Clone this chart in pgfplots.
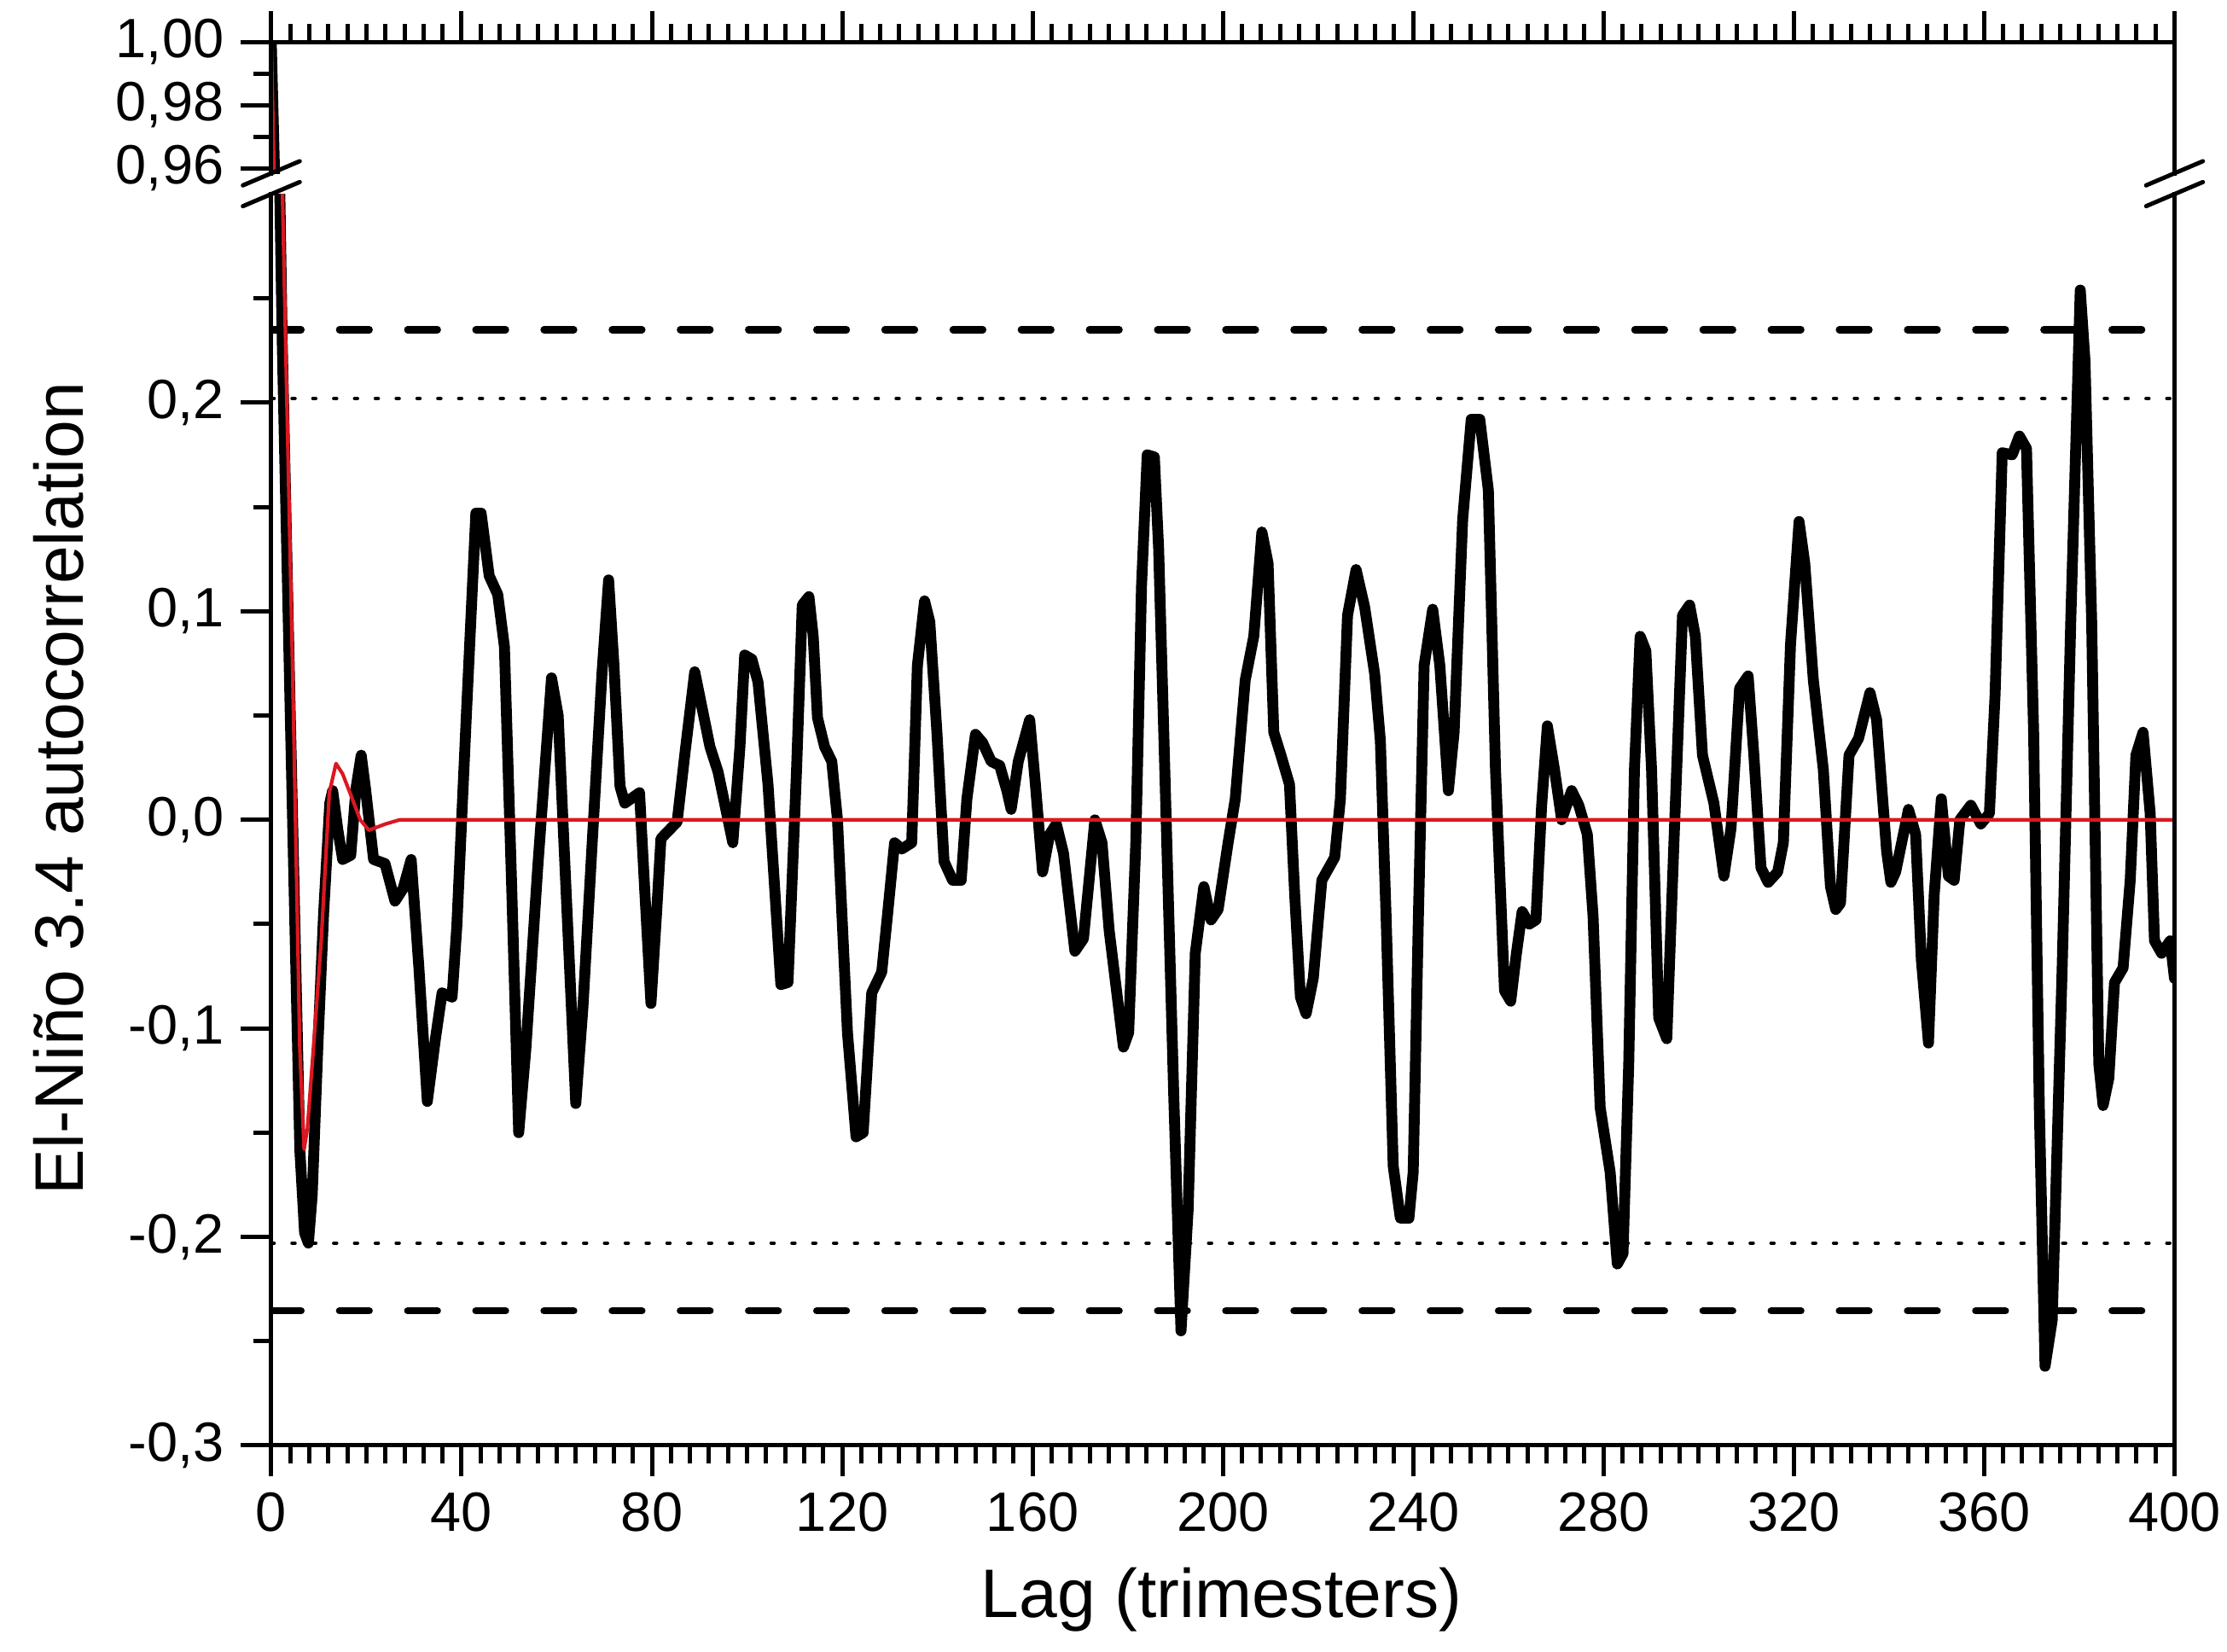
\documentclass[border=0pt]{standalone}
\usepackage{fontspec}
\setmainfont{Liberation Sans}
\usepackage{pgfplots}
\pgfplotsset{compat=1.18}
\usepackage{pgfplotstable}

\pgfplotstableread{
lag v
0 1.0
1 0.94
1.8 0.30
2.3 0.23
4 0.05
6 -0.158
7 -0.198
7.8 -0.203
8.6 -0.18
9.8 -0.108
11 -0.045
12.3 0.008
12.9 0.014
14 -0.005
15 -0.019
16.7 -0.017
17.8 0.015
18.9 0.031
19.8 0.015
21.5 -0.019
23.9 -0.021
26 -0.039
27.7 -0.033
29.4 -0.019
31 -0.07
32.8 -0.135
34.5 -0.105
35.9 -0.083
38 -0.085
39 -0.051
41 0.05
43 0.147
44.1 0.147
45.8 0.117
47.6 0.108
49 0.083
50.5 -0.03
52 -0.150
53.5 -0.11
56 -0.023
58.9 0.068
60.3 0.050
62 -0.036
64 -0.136
65.5 -0.09
67.5 -0.009
69.5 0.07
70.9 0.115
72 0.075
73.3 0.016
74.3 0.008
77.4 0.013
78.5 -0.034
79.8 -0.088
81 -0.044
81.9 -0.009
85.3 -0.001
87 0.033
89 0.071
92.2 0.035
93.9 0.023
97 -0.011
98.5 0.035
99.5 0.079
101 0.077
102.3 0.066
104.4 0.017
107.1 -0.079
108.6 -0.078
110.4 0.024
111.6 0.103
113.0 0.107
113.9 0.088
114.8 0.049
116.3 0.035
117.8 0.028
119.0 0.0
121.1 -0.102
122.9 -0.152
124.4 -0.150
126.2 -0.083
128.3 -0.073
129.5 -0.046
131.0 -0.011
132.5 -0.014
134.6 -0.011
135.8 0.074
137.3 0.105
138.4 0.095
139.9 0.042
141.4 -0.020
143.2 -0.029
145.0 -0.029
146.2 0.010
148.0 0.041
149.5 0.037
151.3 0.028
153.1 0.026
154.6 0.014
155.5 0.005
157.0 0.028
159.4 0.048
160.6 0.017
162.1 -0.025
163.6 -0.007
165.0 -0.002
166.5 -0.016
168.9 -0.063
170.7 -0.057
173.1 0.0
174.6 -0.011
176.1 -0.053
179.1 -0.109
180.2 -0.102
181.7 -0.011
182.9 0.112
184.1 0.175
185.6 0.174
186.5 0.130
188.0 0.007
189.7 -0.134
191.2 -0.245
192.7 -0.187
194.2 -0.064
196.0 -0.032
197.5 -0.048
199.0 -0.043
201.1 -0.011
202.6 0.010
204.7 0.067
206.5 0.088
208.2 0.138
209.5 0.123
210.7 0.042
212.2 0.031
214.0 0.017
215.1 -0.036
216.3 -0.085
217.5 -0.093
219.0 -0.076
220.8 -0.029
223.5 -0.018
224.7 0.010
226.2 0.098
228.0 0.120
229.8 0.102
231.9 0.070
233.1 0.038
234.3 -0.046
235.8 -0.166
237.3 -0.191
239.1 -0.191
240.0 -0.169
241.1 -0.046
242.3 0.074
244.1 0.101
245.6 0.074
247.4 0.014
248.6 0.042
250.4 0.144
252.2 0.192
254.0 0.192
255.8 0.158
257.3 0.024
259.2 -0.082
260.5 -0.087
261.7 -0.064
262.9 -0.044
264.4 -0.050
265.8 -0.048
267.0 0.007
268.2 0.045
269.7 0.024
271.2 0.0
273.3 0.014
274.8 0.007
276.6 -0.007
277.8 -0.046
279.3 -0.138
281.4 -0.169
282.9 -0.213
284.1 -0.208
285.3 -0.117
286.5 0.024
287.7 0.088
288.9 0.081
290.1 0.024
291.6 -0.095
293.3 -0.105
294.8 -0.011
296.6 0.098
298.1 0.103
299.3 0.088
300.8 0.031
303.2 0.008
305.3 -0.027
306.8 -0.004
308.6 0.063
310.4 0.069
311.6 0.031
313.1 -0.023
314.6 -0.030
316.6 -0.025
317.8 -0.011
319.3 0.084
321.1 0.143
322.3 0.123
324.1 0.067
326.2 0.024
327.7 -0.032
328.8 -0.043
329.8 -0.040
331.6 0.031
333.6 0.039
336.0 0.061
337.4 0.048
339.5 -0.015
340.4 -0.030
341.4 -0.025
344.1 0.005
345.6 -0.007
346.8 -0.067
348.3 -0.107
349.5 -0.036
351.0 0.010
352.5 -0.027
353.7 -0.029
354.9 0.0
357.2 0.007
359.3 -0.002
361.1 0.003
362.3 0.060
363.8 0.176
365.9 0.175
367.4 0.184
368.9 0.178
370.4 0.042
371.6 -0.138
372.8 -0.262
374.3 -0.240
376.4 -0.071
378.2 0.095
380.2 0.254
381.2 0.220
382.6 0.095
384.1 -0.117
385.0 -0.137
386.2 -0.124
387.4 -0.078
389.2 -0.071
390.7 -0.029
391.9 0.031
393.4 0.042
394.9 0.003
395.8 -0.058
397.3 -0.064
399.1 -0.058
400.0 -0.076
}\blackdata

\pgfplotstableread{
lag v
0 1.0
1 0.93
1.8 0.36
3 0.23
4.5 0.07
6 -0.11
6.9 -0.158
7.6 -0.148
9 -0.105
10.5 -0.058
12.2 0.013
13.6 0.027
15 0.022
16.7 0.012
18.7 0.0
20.5 -0.005
24 -0.002
27 0.0
400 0.0
}\reddata

\definecolor{curvered}{RGB}{218,24,32}

\pgfplotsset{
  common/.style={
    scale only axis, width=402pt, xmin=0, xmax=400,
    axis line style={draw=none},
    every tick/.style={black, line width=0.9pt},
    major tick length=6.5pt, minor tick length=3.8pt,
    tick align=outside,
    xtick={0,40,...,400}, minor x tick num=9,
    ticklabel style={font=\fontsize{11.7}{13}\selectfont},
    /pgf/number format/assume math mode=true,
    ytick pos=left,
    clip=true,
  },
  blackline/.style={black, line width=2.3pt, line join=round, line cap=round},
  redline/.style={curvered, line width=0.75pt, line join=round},
}

\begin{document}
\begin{tikzpicture}
\path[use as bounding box] (0pt,0pt) rectangle (470.4pt,348.9pt);

% lower axis
\begin{axis}[common, at={(57.3pt,43.6pt)}, anchor=south west, height=264.3pt,
  ymin=-0.3, ymax=0.3,
  xtick pos=left,
  xticklabels={0,40,80,120,160,200,240,280,320,360,400},
  ytick={-0.3,-0.2,-0.1,0,0.1,0.2},
  yticklabels={{-0,3},{-0,2},{-0,1},{0,0},{0,1},{0,2}},
  minor ytick={-0.25,-0.15,-0.05,0.05,0.15,0.25},
]
\addplot[black, line width=1.5pt, line cap=round, dash pattern=on 6.3pt off 8.1pt] coordinates {(0,0.235) (400,0.235)};
\addplot[black, line width=1.5pt, line cap=round, dash pattern=on 6.3pt off 8.1pt] coordinates {(0,-0.2355) (400,-0.2355)};
\addplot[black, line width=0.75pt, line cap=round, dash pattern=on 0.6pt off 3.8pt] coordinates {(0,0.202) (400,0.202)};
\addplot[black, line width=0.75pt, line cap=round, dash pattern=on 0.6pt off 3.8pt] coordinates {(0,-0.203) (400,-0.203)};
\addplot[blackline] table[x=lag, y=v] {\blackdata};
\addplot[redline] table[x=lag, y=v] {\reddata};
\end{axis}

% upper axis
\begin{axis}[common, at={(57.3pt,312.3pt)}, anchor=south west, height=27.7pt,
  ymin=0.9585, ymax=1.0,
  xtick pos=right,
  xticklabels={},
  ytick={0.96,0.98,1.0},
  yticklabels={{0,96},{0,98},{1,00}},
  minor ytick={0.97,0.99},
]
\addplot[blackline] table[x=lag, y=v] {\blackdata};
\addplot[redline] table[x=lag, y=v] {\reddata};
\end{axis}

% frames
\draw[line width=0.9pt, line cap=rect] (57.3pt,307.9pt) -- (57.3pt,43.6pt) -- (459.3pt,43.6pt) -- (459.3pt,307.9pt);
\draw[line width=0.9pt, line cap=rect] (57.3pt,312.3pt) -- (57.3pt,340pt) -- (459.3pt,340pt) -- (459.3pt,312.3pt);

% break marks
\foreach \xx in {57.3,459.3}{
  \draw[line width=0.9pt, line cap=round] (\xx pt-6pt,312.3pt-2.55pt) -- (\xx pt+6pt,312.3pt+2.55pt);
  \draw[line width=0.9pt, line cap=round] (\xx pt-6pt,307.9pt-2.55pt) -- (\xx pt+6pt,307.9pt+2.55pt);
}

% labels
\node[inner sep=0pt, font=\fontsize{14.5}{17}\selectfont] at (258pt,11.1pt) {Lag (trimesters)};
\node[inner sep=0pt, rotate=90, font=\fontsize{14.5}{17}\selectfont] at (12.3pt,182.4pt) {El-Niño 3.4 autocorrelation};
\end{tikzpicture}
\end{document}
